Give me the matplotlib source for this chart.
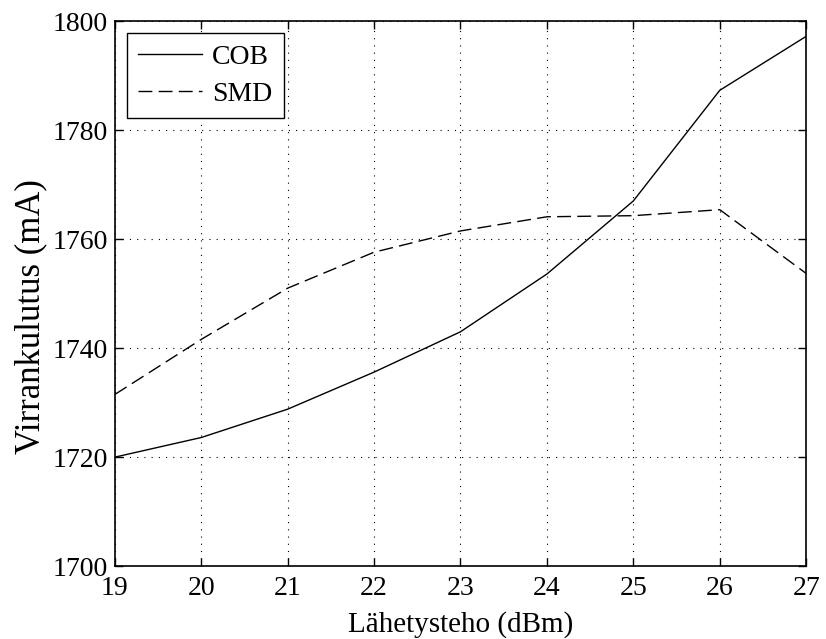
import matplotlib
matplotlib.use("Agg")
import matplotlib.pyplot as plt

# lähetysteho (dBm) ja virrankulutus (mA)
teho = [19, 20, 21, 22, 23, 24, 25, 26, 27]
cob = [1720.0, 1723.6, 1728.8, 1735.6, 1743.0, 1753.6, 1767.0, 1787.3, 1797.2]
smd = [1731.5, 1741.6, 1751.0, 1757.6, 1761.5, 1764.1, 1764.3, 1765.4, 1753.7]

plt.rcParams['font.family'] = ['Liberation Serif', 'DejaVu Serif']
plt.rcParams['font.size'] = 20

fig = plt.figure(figsize=(8.26, 6.39), dpi=100)
ax = fig.add_axes([0.139, 0.114, 0.837, 0.853])

ax.plot(teho, cob, color='black', linestyle='-', linewidth=1.0, label='COB')
ax.plot(teho, smd, color='black', linestyle=(0, (10, 4.5)), linewidth=1.0, label='SMD')

ax.set_xlim(19, 27)
ax.set_ylim(1700, 1800)
ax.set_xticks(range(19, 28))
ax.set_yticks(range(1700, 1801, 20))
ax.grid(True, color='black', linestyle=(0, (1, 5.5)), linewidth=0.8)
ax.tick_params(direction='in', top=True, right=True, length=6, width=1)
ax.tick_params(axis='x', pad=7)
ax.tick_params(axis='y', pad=5)
for s in ax.spines.values():
    s.set_linewidth(1.2)

ax.set_xlabel('Lähetysteho (dBm)', fontsize=21, labelpad=7)
ax.set_ylabel('Virrankulutus (mA)', fontsize=25)
ax.yaxis.set_label_coords(-0.097, 0.457)

leg = ax.legend(loc='upper left', fancybox=False, framealpha=1, edgecolor='black',
                borderaxespad=0.43, handlelength=2.3, handletextpad=0.35,
                borderpad=0.42, labelspacing=0.4, fontsize=20)
leg.get_frame().set_linewidth(1.0)

fig.savefig('out.png', dpi=100)
